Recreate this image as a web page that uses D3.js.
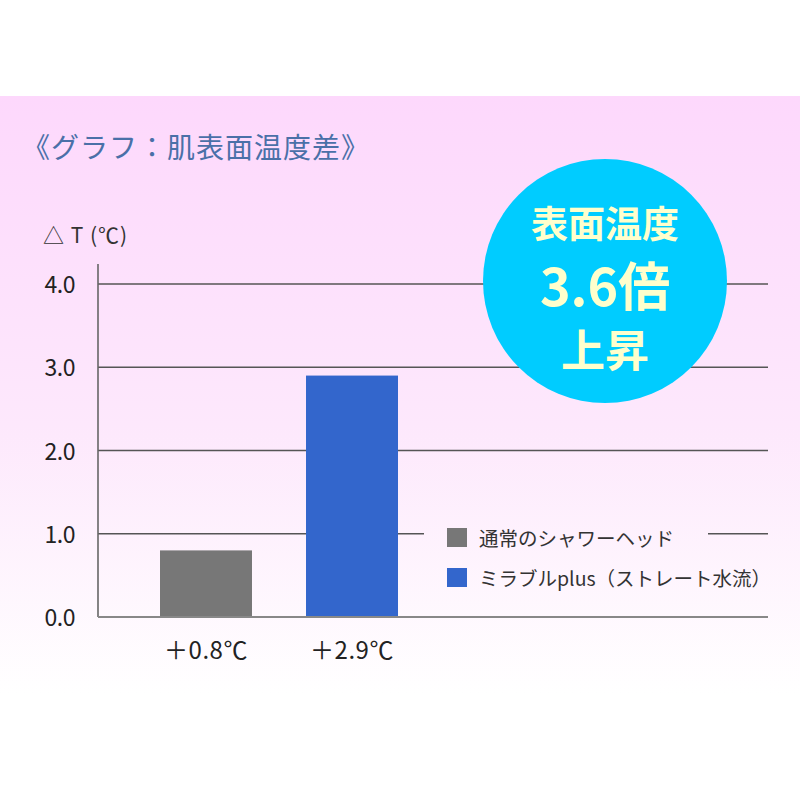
<!DOCTYPE html>
<html>
<head>
<meta charset="utf-8">
<script src="https://cdn.jsdelivr.net/npm/d3@7"></script>
<style>
  body { margin: 0; background: #fff; }
  svg { display: block; }
  text { font-family: 'Noto Sans CJK JP', 'Noto Sans', sans-serif; }
</style>
</head>
<body>
<script>
// chart data
const categories = ['通常のシャワーヘッド', 'ミラブルplus（ストレート水流）'];
const values = [0.8, 2.9];
const barLabels = ['＋0.8℃', '＋2.9℃'];
const colors = ['#777777', '#3366cc'];
const yTicks = [0, 1, 2, 3, 4];
const badgeLines = ['表面温度', '3.6倍', '上昇'];

const W = 800, H = 800;
const svg = d3.select('body').append('svg').attr('width', W).attr('height', H);

// pink background fading to white
const defs = svg.append('defs');
const grad = defs.append('linearGradient')
  .attr('id', 'bg')
  .attr('gradientUnits', 'userSpaceOnUse')
  .attr('x1', 0).attr('y1', 96).attr('x2', 0).attr('y2', 695);
grad.append('stop').attr('offset', 0).attr('stop-color', '#fdd8fc');
grad.append('stop').attr('offset', 0.55).attr('stop-color', '#fde8fc');
grad.append('stop').attr('offset', 1).attr('stop-color', '#ffffff');

svg.append('rect').attr('x', 0).attr('y', 96).attr('width', W).attr('height', 600)
  .attr('fill', 'url(#bg)');

// title
svg.append('text')
  .attr('x', 22).attr('y', 158)
  .attr('font-size', 28)
  .attr('letter-spacing', 1)
  .attr('fill', '#4a70a8')
  .text('《グラフ：肌表面温度差》');

const x0 = 98, x1 = 768;
const y = d3.scaleLinear().domain([0, 4]).range([617, 284]);
const x = d3.scaleBand().domain(categories).range([160, 398]).paddingInner(0.37).paddingOuter(0);

// gridlines
svg.append('g').selectAll('line').data(yTicks.filter(d => d > 0)).join('line')
  .attr('x1', x0).attr('x2', x1)
  .attr('y1', d => y(d)).attr('y2', d => y(d))
  .attr('stroke', '#555').attr('stroke-width', 1.3);

// y axis labels
svg.append('g').selectAll('text').data(yTicks).join('text')
  .attr('x', 75).attr('y', d => y(d) + 9)
  .attr('text-anchor', 'end')
  .attr('font-size', 23)
  .attr('letter-spacing', -0.5)
  .attr('fill', '#222')
  .text(d => d3.format('.1f')(d));

svg.append('text')
  .attr('x', 43).attr('y', 243)
  .attr('font-size', 21)
  .attr('letter-spacing', 1)
  .attr('fill', '#333')
  .text('△ T (℃)');

// bars
svg.append('g').selectAll('rect').data(values).join('rect')
  .attr('x', (d, i) => x(categories[i]))
  .attr('width', x.bandwidth())
  .attr('y', d => y(d))
  .attr('height', d => y(0) - y(d))
  .attr('fill', (d, i) => colors[i]);

svg.append('g').selectAll('text').data(barLabels).join('text')
  .attr('x', (d, i) => x(categories[i]) + x.bandwidth() / 2)
  .attr('y', 659)
  .attr('text-anchor', 'middle')
  .attr('font-size', 24)
  .attr('letter-spacing', 0.5)
  .attr('fill', '#222')
  .text(d => d);

// axis lines
svg.append('line').attr('x1', x0).attr('x2', x0).attr('y1', 264).attr('y2', y(0))
  .attr('stroke', '#666').attr('stroke-width', 1.6);
svg.append('line').attr('x1', x0).attr('x2', x1).attr('y1', y(0)).attr('y2', y(0))
  .attr('stroke', '#888').attr('stroke-width', 2);

// legend box hides the gridline behind it
const lg = svg.append('g');
lg.append('rect').attr('x', 424).attr('y', 515).attr('width', 284).attr('height', 84)
  .attr('fill', 'url(#bg)');
const item = lg.selectAll('g').data(categories).join('g')
  .attr('transform', (d, i) => `translate(447,${528 + i * 40})`);
item.append('rect').attr('width', 20).attr('height', 19)
  .attr('fill', (d, i) => colors[i]);
item.append('text').attr('x', 32).attr('y', 18)
  .attr('font-size', 19.5).attr('fill', '#333')
  .text(d => d);

// badge
const badge = svg.append('g').attr('transform', 'translate(605,281)');
badge.append('circle').attr('r', 122).attr('fill', '#00ccff');
const sizes = [37, 52, 44];
const offs = [-43, 25, 86];
badge.selectAll('text').data(badgeLines).join('text')
  .attr('text-anchor', 'middle')
  .attr('y', (d, i) => offs[i])
  .attr('font-size', (d, i) => sizes[i])
  .attr('font-weight', 'bold')
  .attr('fill', '#ffffcc')
  .text(d => d);
</script>
</body>
</html>
